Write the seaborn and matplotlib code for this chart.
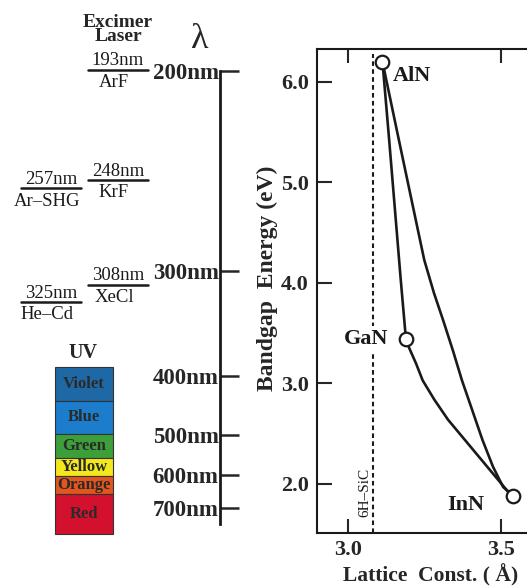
import matplotlib
matplotlib.use("Agg")
import matplotlib.pyplot as plt
import seaborn as sns
import pandas as pd

# ---------------- data ----------------
materials = ["AlN", "GaN", "InN"]
mat_a = [3.112, 3.189, 3.542]
mat_E = [6.20, 3.44, 1.88]

# AlN -> InN (upper curve)
upper_a = [3.112, 3.166, 3.212, 3.249, 3.281, 3.311, 3.343, 3.373, 3.406, 3.440, 3.475, 3.508, 3.542]
upper_E = [6.20, 5.42, 4.76, 4.23, 3.90, 3.63, 3.33, 3.03, 2.74, 2.44, 2.17, 1.97, 1.88]
# AlN -> GaN
left_a = [3.112, 3.134, 3.172, 3.189]
left_E = [6.20, 5.42, 4.03, 3.44]
# GaN -> InN (lower curve)
lower_a = [3.189, 3.200, 3.222, 3.244, 3.282, 3.327, 3.382, 3.437, 3.492, 3.525, 3.542]
lower_E = [3.44, 3.35, 3.20, 3.03, 2.84, 2.64, 2.44, 2.24, 2.04, 1.92, 1.88]

sic_a = 3.08
x_ticks = [3.0, 3.5]
y_ticks = [2.0, 3.0, 4.0, 5.0, 6.0]

# wavelength scale (positions on the energy axis)
lam_labels = ["200nm", "300nm", "400nm", "500nm", "600nm", "700nm"]
lam_pos = [6.11, 4.12, 3.07, 2.49, 2.09, 1.76]

# excimer laser labels
laser_num = ["193nm", "248nm", "257nm", "308nm", "325nm"]
laser_den = ["ArF", "KrF", "Ar\u2013SHG", "XeCl", "He\u2013Cd"]
laser_E = [6.12, 5.02, 4.94, 3.98, 3.81]
laser_x = [118, 118, 51, 118, 51]

# visible colour bands (top, bottom energies)
band_names = ["Violet", "Blue", "Green", "Yellow", "Orange", "Red"]
band_top = [3.16, 2.83, 2.50, 2.26, 2.08, 1.90]
band_bot = [2.83, 2.50, 2.26, 2.08, 1.90, 1.50]
band_colors = ["#1f68a6", "#1b7dcc", "#3c9f3a", "#f3e81c", "#e2561d", "#d3112f"]

# ---------------- style ----------------
sns.set_style("ticks")
plt.rcParams["font.family"] = ["Liberation Serif", "DejaVu Serif"]

W, H = 527, 587
fig = plt.figure(figsize=(W / 100, H / 100), dpi=100)
ylim = (1.512, 6.328)
bottom = 1 - 533 / H
height = 484 / H
ax = fig.add_axes([317 / W, bottom, 212 / W, height])
ax0 = fig.add_axes([0, bottom, 240 / W, height])

# ---------------- right panel ----------------
df_up = pd.DataFrame({"a": upper_a, "E": upper_E})
df_left = pd.DataFrame({"a": left_a, "E": left_E})
df_low = pd.DataFrame({"a": lower_a, "E": lower_E})
for d in (df_up, df_left, df_low):
    sns.lineplot(data=d, x="a", y="E", ax=ax, sort=False, estimator=None,
                 color="#1a1a1a", lw=1.9)

ax.axvline(sic_a, color="#1a1a1a", lw=1.5, ls=(0, (2.2, 1.6)), ymax=0.99)

sns.scatterplot(x=mat_a, y=mat_E, ax=ax, s=95, marker="o", facecolor="white",
                edgecolor="#1a1a1a", linewidth=1.6, zorder=5)

bold = dict(fontweight="bold", fontsize=16, color="#1a1a1a")
ax.text(mat_a[0] + 0.035, mat_E[0] - 0.14, materials[0], ha="left", va="center", **bold)
ax.text(mat_a[1] - 0.057, mat_E[1], materials[1], ha="right", va="center",
        bbox=dict(boxstyle="square,pad=0.15", fc="white", ec="none"), zorder=4, **bold)
ax.text(mat_a[2] - 0.095, mat_E[2] - 0.09, materials[2], ha="right", va="center", **bold)
ax.text(sic_a - 0.027, 1.92, "6H\u2013SiC", rotation=90, ha="center", va="center",
        fontsize=11, color="#1a1a1a")

ax.set_xlim(2.897, 3.593)
ax.set_ylim(*ylim)
ax.set_xticks(x_ticks)
ax.set_xticklabels([f"{v:.1f}" for v in x_ticks], fontweight="bold", fontsize=16)
ax.set_yticks(y_ticks)
ax.set_yticklabels([f"{v:.1f}" for v in y_ticks], fontweight="bold", fontsize=16)
ax.tick_params(axis="x", direction="in", length=10, width=1.5, top=True, pad=5)
ax.tick_params(axis="y", direction="in", length=11, width=1.5, pad=6)
ax.spines["right"].set_visible(False)
for s in ("left", "top", "bottom"):
    ax.spines[s].set_linewidth(1.5)
    ax.spines[s].set_color("#1a1a1a")
ax.set_xlabel("Lattice  Const. ( \u00c5)", fontweight="bold", fontsize=15.5, labelpad=2)
ax.xaxis.set_label_coords(0.535, -0.064)
ax.set_ylabel("Bandgap  Energy (eV)", fontweight="bold", fontsize=17)
ax.yaxis.set_label_coords(-0.183, 0.527)

# ---------------- left panel ----------------
ax0.set_xlim(0, 240)
ax0.set_ylim(*ylim)
for s in ("top", "right", "bottom"):
    ax0.spines[s].set_visible(False)
ax0.spines["left"].set_position(("data", 220))
ax0.spines["left"].set_bounds(1.60, lam_pos[0])
ax0.spines["left"].set_linewidth(2)
ax0.spines["left"].set_color("#1a1a1a")
ax0.set_xticks([])
ax0.set_yticks(lam_pos)
ax0.set_yticklabels(lam_labels, fontweight="bold", fontsize=16.5)
ax0.tick_params(axis="y", direction="in", length=14, width=1.8, pad=1)
ax0.patch.set_alpha(0)

# colour bands
ax0.bar(x=[84] * len(band_names), height=[t - b for t, b in zip(band_top, band_bot)],
        bottom=band_bot, width=58, color=band_colors, edgecolor="#333333",
        linewidth=0.8, clip_on=False)
for n, t, b in zip(band_names, band_top, band_bot):
    ax0.text(84, (t + b) / 2, n, ha="center", va="center", fontsize=12,
             fontweight="bold", color="#2a2a2a")
ax0.text(83, 3.30, "UV", ha="center", va="center", fontsize=14.5, fontweight="bold")

# laser fractions
for num, den, e, xc in zip(laser_num, laser_den, laser_E, laser_x):
    ax0.plot([xc - 30, xc + 30], [e, e], color="#1a1a1a", lw=1.8)
    ax0.text(xc, e + 0.005, num, ha="center", va="bottom", fontsize=13.5, color="#1a1a1a")
    ax0.text(xc - 4, e - 0.04, den, ha="center", va="top", fontsize=13.5, color="#1a1a1a")

ax0.text(118, 6.52, "Excimer\nLaser", ha="center", va="center", fontsize=14,
         fontweight="bold", linespacing=0.78, clip_on=False)
ax0.text(200, 6.42, "\u03bb", ha="center", va="center", fontsize=26, clip_on=False)

fig.savefig("out.png", dpi=100)
